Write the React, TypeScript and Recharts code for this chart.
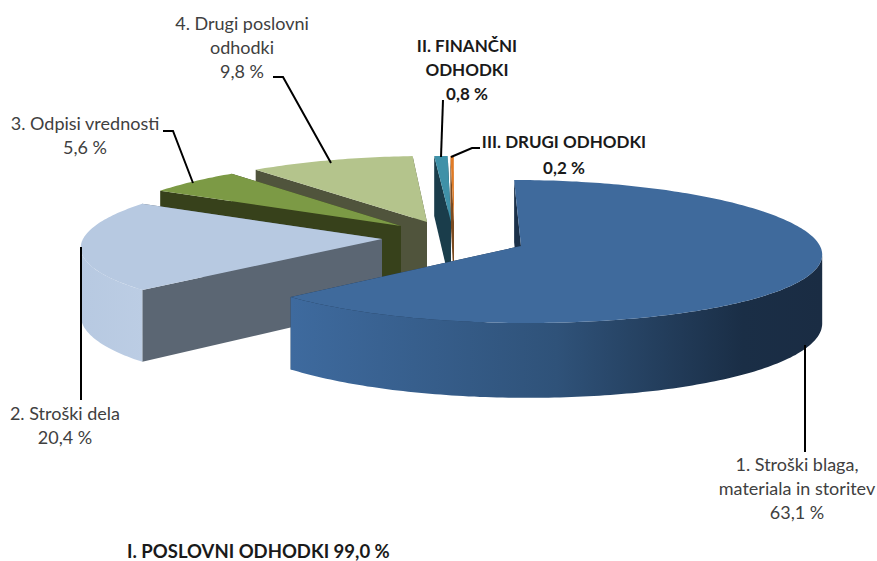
import React from "react";
import { PieChart, Pie } from "recharts";

// back to front, so the big slice is painted last
const categories = ["III", "II", "4", "3", "2", "1"];
const shares = [0.2, 0.8, 9.8, 5.6, 20.4, 63.1];
const labelLines = [
  ["III. DRUGI ODHODKI", "0,2 %"],
  ["II. FINANČNI", "ODHODKI", "0,8 %"],
  ["4. Drugi poslovni", "odhodki", "9,8 %"],
  ["3. Odpisi vrednosti", "5,6 %"],
  ["2. Stroški dela", "20,4 %"],
  ["1. Stroški blaga,", "materiala in storitev", "63,1 %"],
];

const pieData = categories.map((name, i) => ({ name, value: shares[i] }));

const WIDTH = 877;
const HEIGHT = 561;
const CX = 452;
const CY = 246;
const RADIUS = 299;
const RY = 71.5;
const RY_SKEW = 5.5;
const PERSPECTIVE = 0.1;

// how far each slice is pulled out of the pie
const explode = [[2, -24], [-1, -24], [-25, -24], [-51, -20], [-70, -7], [69, 0]];
const topColors = ["#e07b26", "#3f91a8", "#b4c48c", "#7c9a45", "#b7c9e1", "#3f6a9c"];
const wallColors = ["#7a4a20", "#1a3d4b", "#50543c", "#37411b", "#5b6673", "#1b3049"];
const rimColors = ["#7a4a20", "#1a3d4b", "#50543c", "#37411b", "url(#lightRim)", "url(#blueRim)"];

const labelPlace = [
  { x: 564, y: 148 },
  { x: 467, y: 52 },
  { x: 242, y: 30 },
  { x: 85, y: 130 },
  { x: 65, y: 420 },
  { x: 797, y: 471 },
];
const leaderLines = [
  "480,148 472,148 451,157",
  "443,100 441,157",
  "273,77 283,77 331,163",
  "163,131 173,131 193,183",
  "81,247 81,400",
  "805,345 805,452",
];

const depthAt = (y: number) => 60 + (y - 158) * 0.09;

const Slice3D = (props: any) => {
  const { startAngle, endAngle, name } = props;
  const i = categories.indexOf(name);
  const ax = CX + explode[i][0];
  const ay = CY + explode[i][1];

  const rim = (deg: number): [number, number] => {
    const a = (deg * Math.PI) / 180;
    const v = -Math.sin(a);
    return [
      CX + (ax - CX + RADIUS * Math.cos(a)) * (1 + PERSPECTIVE * v),
      ay + v * (RY + RY_SKEW * v),
    ];
  };
  const sample = (from: number, to: number) => {
    const pts: [number, number][] = [];
    for (let d = from; d < to; d += 1) pts.push(rim(d));
    pts.push(rim(to));
    return pts;
  };
  const lower = (p: [number, number]): [number, number] => [p[0], p[1] + depthAt(p[1])];
  const toPath = (pts: [number, number][]) =>
    "M" + pts.map((p) => `${p[0].toFixed(1)},${p[1].toFixed(1)}`).join("L") + "Z";

  const apex: [number, number] = [ax, ay];
  const arc = sample(startAngle, endAngle);
  // perspective puts the widest point of the rim about 7 degrees below the middle
  const frontFrom = Math.max(startAngle, 187);
  const frontTo = Math.min(endAngle, 353);
  const front = frontFrom < frontTo ? sample(frontFrom, frontTo) : [];
  const first = arc[0];
  const last = arc[arc.length - 1];

  return (
    <g>
      <defs>
        <linearGradient id="blueRim" gradientUnits="userSpaceOnUse" x1="292" y1="0" x2="822" y2="0">
          <stop offset="0" stopColor="#3e6a9e" />
          <stop offset="0.5" stopColor="#2f5279" />
          <stop offset="0.85" stopColor="#1a2e46" />
          <stop offset="1" stopColor="#1a2c43" />
        </linearGradient>
        <linearGradient id="lightRim" gradientUnits="userSpaceOnUse" x1="80" y1="0" x2="145" y2="0">
          <stop offset="0" stopColor="#b7c9e1" />
          <stop offset="1" stopColor="#bccde4" />
        </linearGradient>
      </defs>
      <path d={toPath([apex, first, lower(first), lower(apex)])} fill={wallColors[i]} />
      <path d={toPath([apex, last, lower(last), lower(apex)])} fill={wallColors[i]} />
      {i >= 4 && <path d={toPath([...front, ...front.map(lower).reverse()])} fill={rimColors[i]} />}
      <path d={toPath([apex, ...arc])} fill={topColors[i]} />
    </g>
  );
};

const renderLabel = (props: any) => {
  const i = props.index;
  const bold = i < 2;
  return (
    <text
      key={i}
      x={labelPlace[i].x}
      y={labelPlace[i].y}
      textAnchor="middle"
      fontFamily="Lato"
      fontSize={bold ? 17 : 18}
      fontWeight={bold ? 700 : 400}
      fill={bold ? "#1a1a1a" : "#404040"}
    >
      {labelLines[i].map((line, n) => (
        <tspan key={n} x={labelPlace[i].x} dy={n === 0 ? 0 : i === 0 ? 26 : 24}>
          {line}
        </tspan>
      ))}
    </text>
  );
};

const renderLeader = (props: any) => (
  <polyline
    key={props.index}
    points={leaderLines[props.index]}
    fill="none"
    stroke="#000"
    strokeWidth={2}
  />
);

export default function App() {
  return (
    <div style={{ position: "absolute", left: 0, top: 0, width: WIDTH, height: HEIGHT, background: "#fff" }}>
      <PieChart width={WIDTH} height={HEIGHT} margin={{ top: 0, right: 0, bottom: 0, left: 0 }}>
        <Pie
          data={pieData}
          dataKey="value"
          nameKey="name"
          cx={CX}
          cy={CY}
          innerRadius={0}
          outerRadius={RADIUS}
          startAngle={90}
          endAngle={450}
          stroke="none"
          shape={Slice3D}
          label={renderLabel}
          labelLine={renderLeader}
          isAnimationActive={false}
        />
      </PieChart>
      <div
        style={{
          position: "absolute",
          left: 127,
          top: 542,
          fontFamily: "Lato",
          fontSize: 18.5,
          fontWeight: 700,
          lineHeight: "19px",
          color: "#1a1a1a",
          whiteSpace: "nowrap",
        }}
      >
        I. POSLOVNI ODHODKI 99,0 %
      </div>
    </div>
  );
}
